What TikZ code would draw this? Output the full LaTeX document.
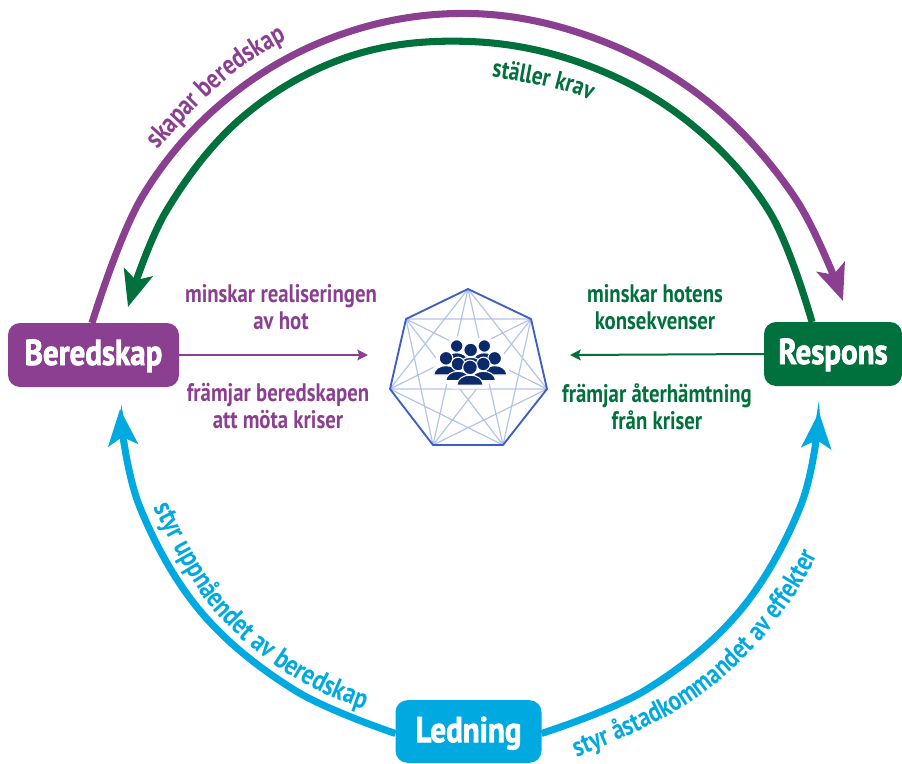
\documentclass[tikz,border=0pt]{standalone}
\usepackage{fontspec}
\usetikzlibrary{arrows.meta,calc,decorations.text}
\newfontfamily\lab[FakeStretch=0.82]{PT Sans Bold}
\newfontfamily\boxfont[FakeStretch=0.86,FakeBold=2]{PT Sans Bold}
\definecolor{cpurple}{HTML}{8A3F90}
\definecolor{cgreen}{HTML}{00703C}
\definecolor{cblue}{HTML}{00A9E0}
\definecolor{chept}{HTML}{3D5FBF}
\definecolor{clight}{HTML}{B4C3EA}
\definecolor{cnavy}{HTML}{0B2A6B}
\tikzset{
  boxnode/.style={rectangle,rounded corners=9pt,inner sep=0pt,outer sep=0pt,text=white,
    font=\boxfont\fontsize{27}{29}\selectfont},
  midtext/.style={align=center,inner sep=0pt,font=\lab\fontsize{19}{20.25}\selectfont},
  arc/.style={line width=5.3pt,-{Stealth[length=27pt,width=22pt,inset=6pt]}},
  thinarrow/.style={line width=1.5pt,-{Stealth[length=8pt,width=8pt,inset=1.5pt]}},
  guypart/.style={fill=cnavy,draw=white},
}
\newcommand\guy[3]{%
  \begin{scope}[shift={(#1,#2)},scale=#3]
    \path[guypart] (-37,50) .. controls (-35,32) and (-20,22) .. (0,22) .. controls (20,22) and (35,32) .. (37,50) -- cycle;
    \path[guypart] (0,0) circle[radius=20.5];
  \end{scope}}
\newcommand\allguys{%
  \guy{260}{228}{0.92}\guy{343}{228}{0.92}\guy{302}{240}{1.0}%
  \guy{228}{265}{1.0}\guy{374}{265}{1.0}%
  \guy{264}{282}{1.0}\guy{340}{282}{1.0}\guy{300}{292}{1.07}}
\begin{document}
\begin{tikzpicture}[x=0.75pt,y=-0.75pt]
\useasboundingbox (0,0) rectangle (902,763);
% boxes
\node[boxnode,fill=cpurple,minimum width=128.25pt,minimum height=48pt] (bered) at (93.5,355) {\raisebox{-7.5pt}[0pt][0pt]{Beredskap}};
\node[boxnode,fill=cgreen,minimum width=103.5pt,minimum height=48pt] (respons) at (833,354) {\raisebox{-7.5pt}[0pt][0pt]{Respons}};
\node[boxnode,fill=cblue,minimum width=109.5pt,minimum height=47pt] (ledning) at (468.5,731.5) {\raisebox{-8pt}[0pt][0pt]{Ledning}};
% ends of the arcs
\coordinate (pstart) at ($(bered.north west)+(84,0)$);
\coordinate (gstart) at ($(respons.north west)+(48,0)$);
\coordinate (blstart) at ($(ledning.west)+(0,2)$);
\coordinate (brstart) at ($(ledning.east)+(0,2)$);
\coordinate (ptip) at (843,301);
\coordinate (gtip) at (128,307);
\coordinate (bltip) at (120,409);
\coordinate (brtip) at (819,412);
% arcs
\draw[arc,cpurple] plot[smooth,tension=0.62] coordinates {(pstart) (142.6,196) (228.6,97.4) (342.3,34) (470,13.5) (596,38.7) (707.8,101.6) (794.8,197.5) (ptip)};
\draw[arc,cgreen] plot[smooth,tension=0.62] coordinates {(gstart) (769.6,212) (689.8,123) (586.5,65) (470,41.5) (350.3,56.1) (244.1,115.7) (166.9,210) (gtip)};
\draw[arc,cblue] plot[smooth,tension=0.62] coordinates {(blstart) (294,689.8) (200.4,611.3) (139.2,505.4) (bltip)};
\draw[arc,cblue] plot[smooth,tension=0.62] coordinates {(brstart) (646,689.8) (739.6,611.3) (800.8,505.4) (brtip)};
% centre arrows
\coordinate (hleft) at (368,355);
\coordinate (hright) at (570,355);
\draw[thinarrow,cpurple] (bered.east) -- (hleft);
\draw[thinarrow,cgreen] (respons.west) -- (hright);
% heptagon
\coordinate (h1) at (468,289);
\coordinate (h2) at (531,319);
\coordinate (h3) at (547,389);
\coordinate (h4) at (503,445);
\coordinate (h5) at (433,445);
\coordinate (h6) at (390,389);
\coordinate (h7) at (406,319);
\draw[clight,line width=0.9pt]
  (h1)--(h3) (h1)--(h4) (h1)--(h5) (h1)--(h6)
  (h2)--(h4) (h2)--(h5) (h2)--(h6) (h2)--(h7)
  (h3)--(h5) (h3)--(h6) (h3)--(h7)
  (h4)--(h6) (h4)--(h7)
  (h5)--(h7);
\draw[chept,line width=1.4pt,line join=round] (h1)--(h2)--(h3)--(h4)--(h5)--(h6)--(h7)--cycle;
% people icon
\begin{scope}[shift={(370,270)},scale=1/3]
  \tikzset{guypart/.append style={line width=5pt}}
  \allguys
\end{scope}
\begin{scope}[shift={(370,270)},scale=1/3]
  \tikzset{guypart/.append style={line width=0.8pt}}
  \allguys
\end{scope}
% straight labels
\node[midtext,text=cpurple] (t1) at (281,307.5) {minskar realiseringen\\av hot};
\node[midtext,text=cpurple] (t2) at (278,406.5) {främjar beredskapen\\att möta kriser};
\node[midtext,text=cgreen] (t3) at (655,307.5) {minskar hotens\\konsekvenser};
\node[midtext,text=cgreen] (t4) at (657,406.5) {främjar återhämtning\\från kriser};
% curved labels
\path[decorate,decoration={text along path,text align=left,
  text={|\lab\fontsize{21}{23}\selectfont\color{cpurple}|skapar beredskap}}]
  plot[smooth,tension=0.62] coordinates {(157.7,149.7) (234.7,72.7) (329.9,20) (435.9,-4.5)};
\path[decorate,decoration={text along path,text align=left,
  text={|\lab\fontsize{19.5}{21}\selectfont\color{cgreen}|ställer krav}}]
  plot[smooth,tension=0.62] coordinates {(491.6,76.8) (575.7,94.6) (651.6,135) (713.5,194.8)};
\path[decorate,decoration={text along path,text align=left,
  text={|\lab\fontsize{21.5}{24}\selectfont\color{cblue}|styr uppnåendet av beredskap}}]
  plot[smooth,tension=0.62] coordinates {(154,507.2) (212.6,608.7) (304.7,683.2) (416.7,721.8) (535,719.7)};
\path[decorate,decoration={text along path,text align=left,
  text={|\lab\fontsize{21}{23}\selectfont\color{cblue}|styr åstadkommandet av effekter}}]
  plot[smooth,tension=0.62] coordinates {(576.7,757) (697.5,698.1) (790.8,601.4) (845.5,478.6) (854.9,344.6)};
\end{tikzpicture}
\end{document}
